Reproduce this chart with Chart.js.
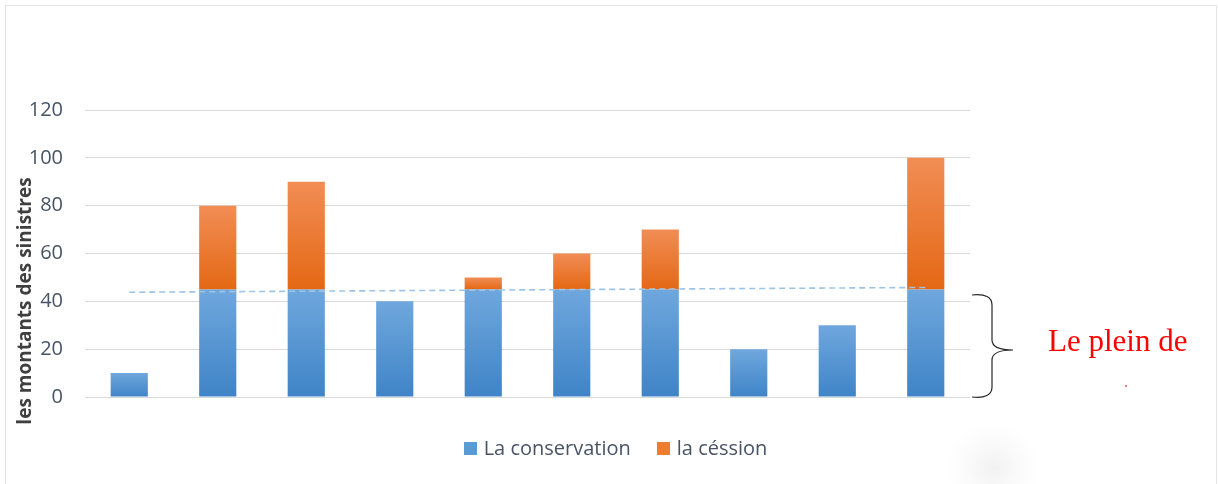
<!DOCTYPE html>
<html>
<head>
<meta charset="utf-8">
<script src="https://cdn.jsdelivr.net/npm/chart.js@4.4.1/dist/chart.umd.min.js"></script>
<style>
    html, body { margin: 0; padding: 0; background: #fff; }
    #wrap { position: relative; width: 1218px; height: 484px; overflow: hidden; }
    #frame { position: absolute; left: 5px; top: 5px; width: 1212px; height: 490px; border: 1.5px solid #e1e4e9; box-sizing: border-box; }
    #chart { position: absolute; left: 0; top: 0; }
    #legend { position: absolute; left: 0; top: 435px; width: 1218px; display: flex; justify-content: center; padding-left: 13px; box-sizing: border-box;
              font-family: "Open Sans", "DejaVu Sans", sans-serif; font-size: 20px; color: #485465; line-height: 26px; }
    #legend .item { display: flex; align-items: center; margin: 0 13px; }
    #legend .box { width: 13px; height: 13px; margin-right: 7px; }
    #note { position: absolute; left: 1048px; top: 325px; font-family: "Liberation Serif", "DejaVu Serif", serif; font-size: 31px; line-height: 31px; color: #ff0000; white-space: nowrap; }
    #dot { position: absolute; left: 1125px; top: 385px; width: 2px; height: 2px; background: #f08080; }
    #smudge { position: absolute; left: 945px; top: 420px; width: 96px; height: 96px; border-radius: 50%; background: radial-gradient(circle, rgba(225,225,225,0.45) 0%, rgba(238,238,238,0.25) 40%, rgba(255,255,255,0) 70%); }
</style>
</head>
<body>
<div id="wrap">
    <div id="frame"></div>
    <canvas id="chart" width="1218" height="484"></canvas>
    <div id="legend"></div>
    <div id="note">Le plein de</div>
    <div id="dot"></div>
    <div id="smudge"></div>
</div>
<script>
const categories = ['S1', 'S2', 'S3', 'S4', 'S5', 'S6', 'S7', 'S8', 'S9', 'S10'];
const conservation = [10, 45, 45, 40, 45, 45, 45, 20, 30, 45];
const cession = [0, 35, 45, 0, 5, 15, 25, 0, 0, 55];
// seuil de rétention (droite pointillée entre la 1re et la dernière catégorie)
const plein = [43.8, null, null, null, null, null, null, null, null, 45.8];
const yMax = 120;
const yStep = 20;

const textColor = '#485465';
const baseFont = '"Open Sans", "DejaVu Sans", sans-serif';
const blue = '#5b9bd5';
const orange = '#ed7d31';

// dégradé vertical calculé pour chaque barre
function barGradient(ctx, from, to, topColor, bottomColor, solid) {
    const chart = ctx.chart;
    const y = chart.scales.y;
    if (!chart.chartArea || !y || ctx.type !== 'data') return solid;
    const i = ctx.dataIndex;
    const bottom = y.getPixelForValue(from(i));
    const top = y.getPixelForValue(to(i));
    if (!isFinite(top) || !isFinite(bottom) || top === bottom) return solid;
    const g = chart.ctx.createLinearGradient(0, top, 0, bottom);
    g.addColorStop(0, topColor);
    g.addColorStop(1, bottomColor);
    return g;
}

// accolade + titre de l'axe Y
const decorations = {
    id: 'decorations',
    afterDraw(chart) {
        const c = chart.ctx;
        const area = chart.chartArea;

        c.save();
        c.translate(26, 301);
        c.rotate(-Math.PI / 2);
        c.font = 'bold 19px ' + baseFont;
        c.fillStyle = '#3f3f3f';
        c.textAlign = 'center';
        c.textBaseline = 'middle';
        c.fillText('les montants des sinistres', 0, 0);
        c.restore();

        const top = 295, bottom = 397, mid = 350;
        const x0 = area.right + 2, x1 = area.right + 22, tip = area.right + 43;
        c.save();
        c.strokeStyle = '#262626';
        c.lineWidth = 1.2;
        c.beginPath();
        c.moveTo(x0, top);
        c.quadraticCurveTo(x1, top - 2, x1, top + 10);
        c.lineTo(x1, mid - 10);
        c.quadraticCurveTo(x1, mid, tip, mid);
        c.quadraticCurveTo(x1, mid, x1, mid + 10);
        c.lineTo(x1, bottom - 10);
        c.quadraticCurveTo(x1, bottom + 2, x0, bottom);
        c.stroke();
        c.restore();
    }
};

const ctx = document.getElementById('chart').getContext('2d');
const chart = new Chart(ctx, {
    type: 'bar',
    data: {
        labels: categories,
        datasets: [
            {
                label: 'La conservation',
                data: conservation,
                stack: 'montants',
                backgroundColor: (c) => barGradient(c, () => 0, (i) => conservation[i], '#6fa7dd', '#3f84c7', blue),
                barPercentage: 0.84,
                categoryPercentage: 0.5,
                order: 2
            },
            {
                label: 'la céssion',
                data: cession,
                stack: 'montants',
                backgroundColor: (c) => barGradient(c, (i) => conservation[i], (i) => conservation[i] + cession[i], '#f18d55', '#e46814', orange),
                barPercentage: 0.84,
                categoryPercentage: 0.5,
                order: 2
            },
            {
                type: 'line',
                label: 'plein',
                data: plein,
                stack: 'plein',
                spanGaps: true,
                borderColor: '#9dc3e6',
                borderWidth: 1.6,
                borderDash: [6, 4],
                pointRadius: 0,
                fill: false,
                order: 1
            }
        ]
    },
    options: {
        responsive: false,
        animation: false,
        layout: {
            padding: { left: 0, right: 248, top: 110, bottom: 79 }
        },
        scales: {
            x: {
                stacked: true,
                grid: { display: false },
                border: { display: false },
                ticks: { display: false }
            },
            y: {
                stacked: true,
                min: 0,
                max: yMax,
                afterFit: (scale) => { scale.width = 85; },
                ticks: {
                    stepSize: yStep,
                    padding: 22,
                    color: textColor,
                    font: { family: baseFont, size: 20 }
                },
                grid: { color: '#d9d9d9', lineWidth: 1, drawTicks: false },
                border: { display: false }
            }
        },
        plugins: {
            legend: { display: false },
            tooltip: { enabled: false }
        }
    },
    plugins: [decorations]
});

// légende sous le graphique (séries empilées seulement)
const legendEl = document.getElementById('legend');
chart.data.datasets.slice(0, 2).forEach((ds, i) => {
    const item = document.createElement('div');
    item.className = 'item';
    const box = document.createElement('span');
    box.className = 'box';
    box.style.background = i === 0 ? blue : orange;
    const label = document.createElement('span');
    label.textContent = ds.label;
    item.appendChild(box);
    item.appendChild(label);
    legendEl.appendChild(item);
});
</script>
</body>
</html>
